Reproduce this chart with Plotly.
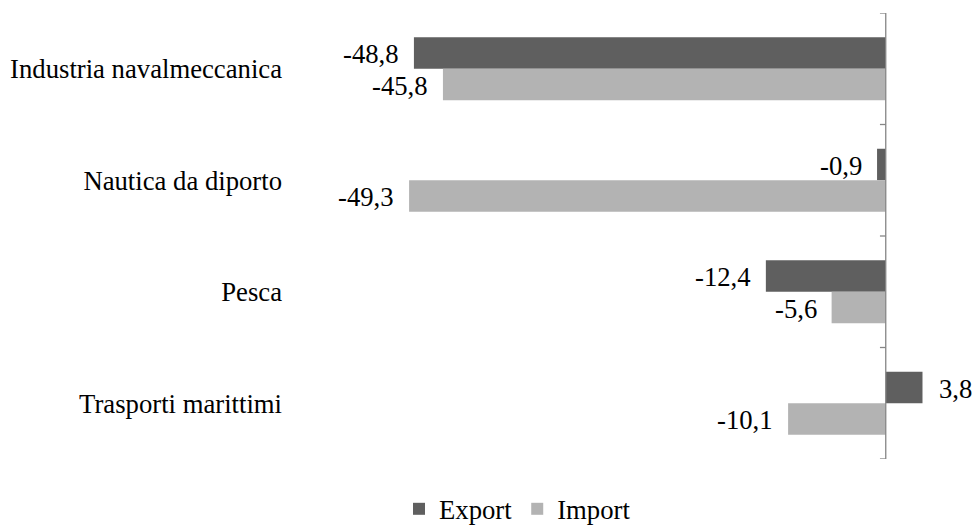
import plotly.graph_objects as go

categories = ["Industria navalmeccanica", "Nautica da diporto", "Pesca", "Trasporti marittimi"]
export_vals = [-48.8, -0.9, -12.4, 3.8]
import_vals = [-45.8, -49.3, -5.6, -10.1]

EXPORT_COLOR = "#5f5f5f"
IMPORT_COLOR = "#b3b3b3"
FONT = "Liberation Serif"
FONT_SIZE = 26.7
BARGAP = 0.435

def fmt(v):
    return f"{v:.1f}".replace(".", ",")

fig = go.Figure()
fig.add_trace(go.Bar(y=categories, x=export_vals, name="Export", orientation="h",
                     marker=dict(color=EXPORT_COLOR, line=dict(width=0))))
fig.add_trace(go.Bar(y=categories, x=import_vals, name="Import", orientation="h",
                     marker=dict(color=IMPORT_COLOR, line=dict(width=0))))

# value labels just outside each bar end, centred on their bar
half_bar = (1 - BARGAP) / 4
annotations = []
for series_idx, vals in enumerate([export_vals, import_vals]):
    off = -half_bar if series_idx == 0 else half_bar
    for i, v in enumerate(vals):
        annotations.append(dict(
            x=v, y=i + off, xref="x", yref="y", text=fmt(v), showarrow=False,
            xanchor="left" if v > 0 else "right", yanchor="middle",
            xshift=15 if v > 0 else -13, yshift=-1,
            font=dict(family=FONT, size=FONT_SIZE, color="#000000"),
        ))

# vertical axis at zero with tick marks between categories
shapes = [dict(type="line", xref="x", yref="y", x0=0, x1=0, y0=-0.5, y1=len(categories) - 0.5,
               line=dict(color="#868686", width=1.3))]
for k in range(len(categories) + 1):
    shapes.append(dict(type="line", xref="x", yref="y", x0=0, x1=-0.6, y0=k - 0.5, y1=k - 0.5,
                       line=dict(color="#868686", width=1.3)))

fig.update_layout(
    width=976, height=526,
    margin=dict(l=295, r=10, t=13, b=67, autoexpand=False),
    paper_bgcolor="white", plot_bgcolor="white",
    barmode="group", bargap=BARGAP, bargroupgap=0,
    font=dict(family=FONT, size=FONT_SIZE, color="#000000"),
    xaxis=dict(range=[-61.1, 8.3], visible=False, fixedrange=True),
    yaxis=dict(range=[len(categories) - 0.5, -0.5], autorange=False, showline=False,
               showgrid=False, ticks="", ticklabelstandoff=12,
               tickfont=dict(family=FONT, size=FONT_SIZE, color="#000000")),
    showlegend=True,
    legend=dict(orientation="h", x=0.155, xanchor="left", y=-0.112, yanchor="middle",
                font=dict(family=FONT, size=FONT_SIZE, color="#000000"),
                itemwidth=30, traceorder="normal"),
    annotations=annotations,
    shapes=shapes,
)

fig.write_html("out.html")
